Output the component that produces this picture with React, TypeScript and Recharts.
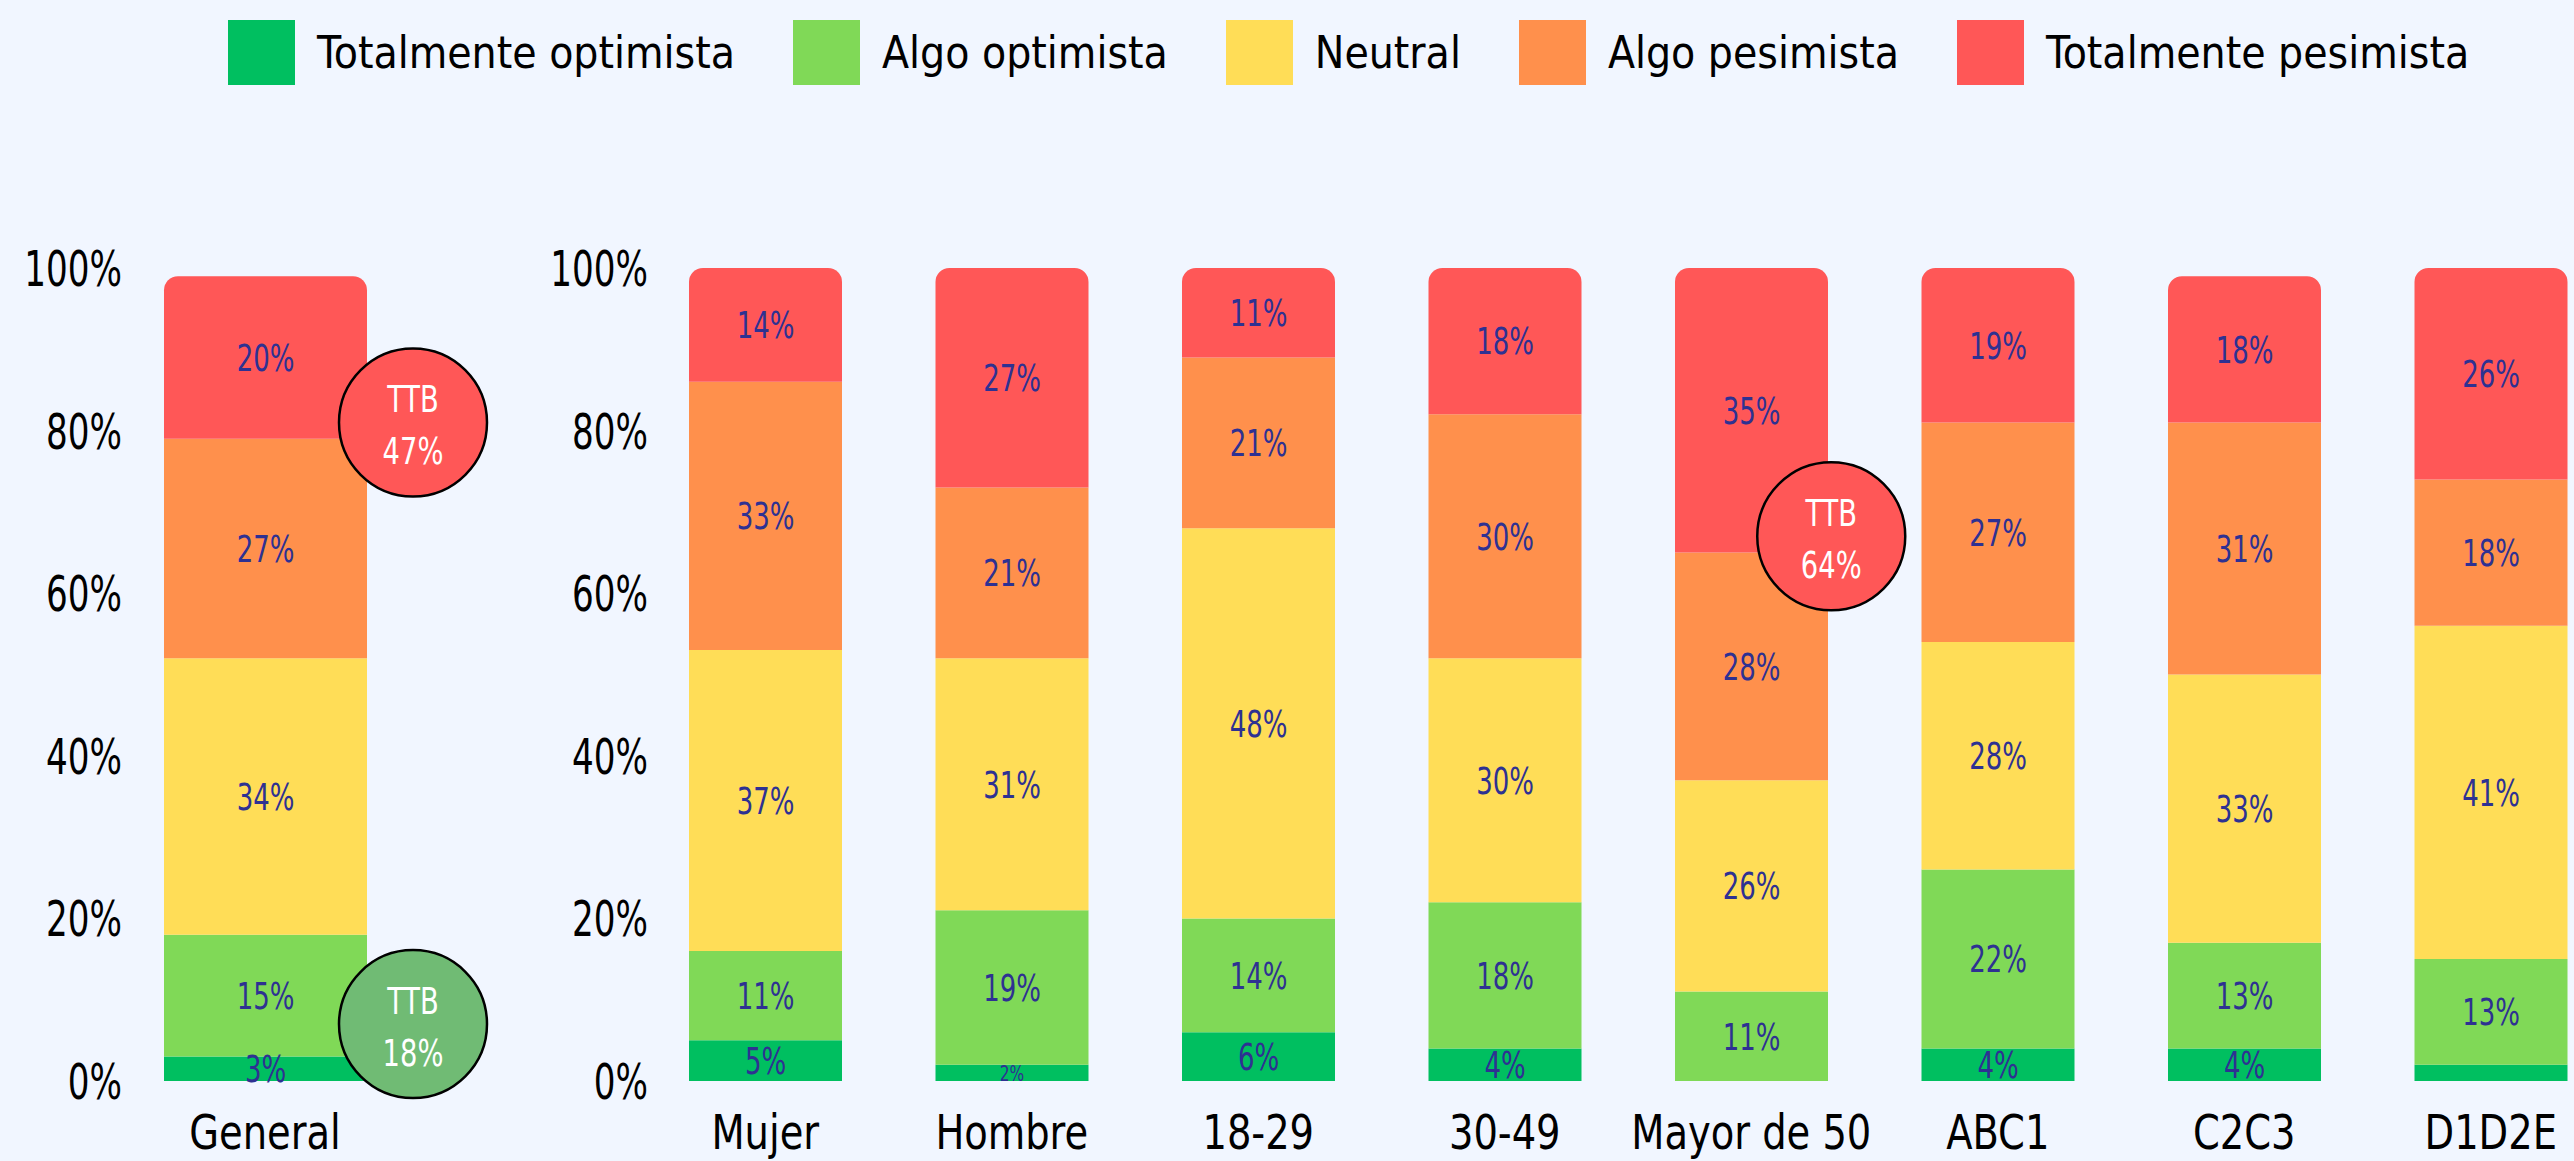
import React from "react";
import { BarChart, Bar, XAxis, YAxis, LabelList, ReferenceDot } from "recharts";

// ---------- data ----------
const SERIES_NAMES = ["Totalmente optimista", "Algo optimista", "Neutral", "Algo pesimista", "Totalmente pesimista"];
const SERIES_KEYS = ["totOpt", "algoOpt", "neutral", "algoPes", "totPes"];
const SERIES_COLORS = ["#00BF60", "#80D957", "#FFDD57", "#FF904C", "#FF5757"];

const GENERAL_CATEGORIES = ["General"];
const GENERAL_TOT_OPT = [3];
const GENERAL_ALGO_OPT = [15];
const GENERAL_NEUTRAL = [34];
const GENERAL_ALGO_PES = [27];
const GENERAL_TOT_PES = [20];

const SEGMENT_CATEGORIES = ["Mujer", "Hombre", "18-29", "30-49", "Mayor de 50", "ABC1", "C2C3", "D1D2E"];
const TOT_OPT = [5, 2, 6, 4, 0, 4, 4, 2];
const ALGO_OPT = [11, 19, 14, 18, 11, 22, 13, 13];
const NEUTRAL = [37, 31, 48, 30, 26, 28, 33, 41];
const ALGO_PES = [33, 21, 21, 30, 28, 27, 31, 18];
const TOT_PES = [14, 27, 11, 18, 35, 19, 18, 26];

// dark-green label not printed for these categories
const HIDDEN_TOT_OPT_LABELS = ["D1D2E"];

const Y_TICKS = [0, 20, 40, 60, 80, 100];

// TTB callouts
const TTB_GENERAL_PES = { category: "General", y: 81, text: "47%" };
const TTB_GENERAL_OPT = { category: "General", y: 7, text: "18%" };
const TTB_MAYOR_PES = { category: "Mayor de 50", y: 67, text: "64%" };

// ---------- build tables ----------
const buildRows = (cats: string[], cols: number[][]) =>
  cats.map((c, i) => {
    const row: any = { name: c };
    SERIES_KEYS.forEach((k, s) => {
      row[k] = cols[s][i];
      const hidden = k === "totOpt" && HIDDEN_TOT_OPT_LABELS.includes(c);
      row[k + "Label"] = hidden ? 0 : cols[s][i];
    });
    return row;
  });

const generalData = buildRows(GENERAL_CATEGORIES, [GENERAL_TOT_OPT, GENERAL_ALGO_OPT, GENERAL_NEUTRAL, GENERAL_ALGO_PES, GENERAL_TOT_PES]);
const segmentData = buildRows(SEGMENT_CATEGORIES, [TOT_OPT, ALGO_OPT, NEUTRAL, ALGO_PES, TOT_PES]);

const FONT = "'DejaVu Sans Condensed', 'DejaVu Sans', sans-serif";
const LABEL_COLOR = "#2E3192";

// condensed svg text: narrows glyphs horizontally around the anchor point
const CText = ({ x, y, sx, fontSize, fill, anchor, dy, children }: any) => (
  <text
    transform={`translate(${x},${y}) scale(${sx},1)`}
    x={0}
    y={0}
    dy={dy}
    textAnchor={anchor}
    fontSize={fontSize}
    fontFamily={FONT}
    fill={fill}
  >
    {children}
  </text>
);

const valueLabel = (props: any) => {
  const { x, y, width, height, value } = props;
  if (!value) return null;
  const small = value <= 2;
  return (
    <CText
      x={x + width / 2}
      y={y + height / 2}
      sx={0.78}
      fontSize={small ? 22 : 37}
      fill={LABEL_COLOR}
      anchor="middle"
      dy="0.36em"
    >
      {value}%
    </CText>
  );
};

const ttbShape = (text: string, fill: string, dx: number) => (props: any) => {
  const { cx, cy } = props;
  const x = cx + dx;
  return (
    <g>
      <circle cx={x} cy={cy} r={74} fill={fill} stroke="#000" strokeWidth={2.5} />
      <CText x={x} y={cy - 24} sx={0.8} fontSize={38} fill="#fff" anchor="middle" dy="0.36em">
        TTB
      </CText>
      <CText x={x} y={cy + 28} sx={0.8} fontSize={38} fill="#fff" anchor="middle" dy="0.36em">
        {text}
      </CText>
    </g>
  );
};

const YTick = (props: any) => (
  <CText x={props.x} y={props.y} sx={0.76} fontSize={50} fill="#000" anchor="end" dy="0.36em">
    {props.payload.value}%
  </CText>
);

const XTick = (props: any) => (
  <CText x={props.x} y={props.y} sx={0.89} fontSize={48} fill="#000" anchor="middle" dy="0.71em">
    {props.payload.value}
  </CText>
);

const renderBars = (barSize: number) =>
  SERIES_KEYS.map((k, s) => (
    <Bar
      key={k}
      dataKey={k}
      name={SERIES_NAMES[s]}
      stackId="a"
      fill={SERIES_COLORS[s]}
      barSize={barSize}
      isAnimationActive={false}
      radius={s === SERIES_KEYS.length - 1 ? [14, 14, 0, 0] : 0}
    >
      <LabelList dataKey={k + "Label"} content={valueLabel} />
    </Bar>
  ));

const Legend = () => (
  <div style={{ position: "absolute", left: 228, top: 20, display: "flex", alignItems: "center", fontFamily: FONT }}>
    {SERIES_NAMES.map((n, i) => (
      <div key={n} style={{ display: "flex", alignItems: "center", marginRight: 58 }}>
        <div style={{ width: 67, height: 65, background: SERIES_COLORS[i] }} />
        <div style={{ marginLeft: 22, fontSize: 44, lineHeight: "65px", color: "#000", whiteSpace: "nowrap" }}>{n}</div>
      </div>
    ))}
  </div>
);

export default function App() {
  return (
    <div
      style={{
        position: "fixed",
        left: 0,
        top: 0,
        width: 2574,
        height: 1161,
        overflow: "hidden",
        background: "#F1F6FF",
      }}
    >
      <Legend />
      <div style={{ position: "absolute", left: 0, top: 0 }}>
        <BarChart width={500} height={1161} data={generalData} margin={{ top: 268, right: 100, bottom: 0, left: 0 }}>
          <YAxis
            type="number"
            domain={[0, 100]}
            ticks={Y_TICKS}
            width={130}
            axisLine={false}
            tickLine={false}
            tickSize={0}
            tickMargin={8}
            tick={YTick}
            interval={0}
          />
          <XAxis dataKey="name" height={80} axisLine={false} tickLine={false} tickSize={0} tickMargin={34} tick={XTick} />
          {renderBars(203)}
          <ReferenceDot
            x={TTB_GENERAL_PES.category}
            y={TTB_GENERAL_PES.y}
            ifOverflow="visible"
            shape={ttbShape(TTB_GENERAL_PES.text, "#FF5757", 148)}
          />
          <ReferenceDot
            x={TTB_GENERAL_OPT.category}
            y={TTB_GENERAL_OPT.y}
            ifOverflow="visible"
            shape={ttbShape(TTB_GENERAL_OPT.text, "#70BB74", 148)}
          />
        </BarChart>
      </div>
      <div style={{ position: "absolute", left: 420, top: 0 }}>
        <BarChart width={2194} height={1161} data={segmentData} margin={{ top: 268, right: 0, bottom: 0, left: 0 }}>
          <YAxis
            type="number"
            domain={[0, 100]}
            ticks={Y_TICKS}
            width={222}
            axisLine={false}
            tickLine={false}
            tickSize={0}
            tickMargin={-6}
            tick={YTick}
            interval={0}
          />
          <XAxis dataKey="name" height={80} axisLine={false} tickLine={false} tickSize={0} tickMargin={34} tick={XTick} interval={0} />
          {renderBars(153)}
          <ReferenceDot
            x={TTB_MAYOR_PES.category}
            y={TTB_MAYOR_PES.y}
            ifOverflow="visible"
            shape={ttbShape(TTB_MAYOR_PES.text, "#FF5757", 80)}
          />
        </BarChart>
      </div>
    </div>
  );
}
